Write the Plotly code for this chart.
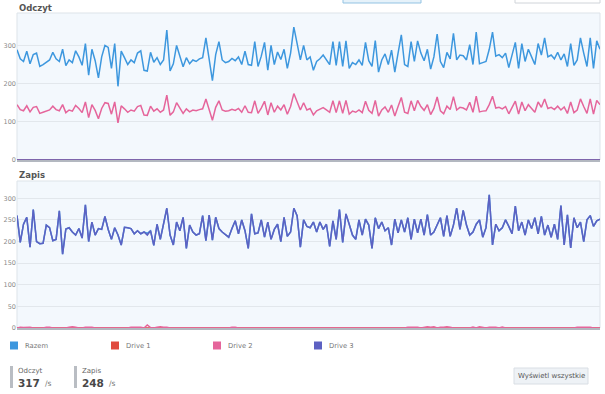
import plotly.graph_objects as go

# ---------------- data ----------------
read_razem = [289,265,258,285,252,276,280,245,250,255,262,282,265,258,290,247,262,255,286,270,
              248,305,222,290,260,215,270,300,295,240,305,193,285,268,250,262,255,280,286,235,
              233,282,256,268,250,262,340,233,252,300,270,244,268,252,262,258,265,268,320,260,
              208,276,310,262,255,258,266,260,270,250,285,250,248,310,245,272,308,235,300,250,
              283,263,290,240,280,348,305,262,300,262,270,235,258,265,275,262,250,310,248,310,
              245,312,240,255,250,262,248,308,260,245,313,230,262,278,250,288,230,280,328,250,
              245,310,258,312,280,260,290,238,270,330,258,242,282,265,332,262,275,273,262,302,
              250,335,252,255,258,290,335,272,276,268,280,242,272,308,240,305,258,290,270,250,
              305,275,320,270,275,265,282,262,278,245,305,248,262,320,280,245,320,240,312,290]
read_drive2 = [145,132,129,142,126,138,140,122,125,128,131,141,132,129,145,124,131,128,143,135,
               124,152,111,145,130,108,135,150,148,120,152,97,142,134,125,131,128,140,143,118,
               117,141,128,134,125,131,170,117,126,150,135,122,134,126,131,129,132,134,160,130,
               104,138,155,131,128,129,133,130,135,125,142,125,124,155,122,136,154,118,150,125,
               141,131,145,120,140,174,152,131,150,131,135,118,129,132,137,131,125,155,124,155,
               122,156,120,128,125,131,124,154,130,122,156,115,131,139,125,144,115,140,164,125,
               122,155,129,156,140,130,145,119,135,165,129,121,141,132,166,131,138,136,131,151,
               125,167,126,128,129,145,167,136,138,134,140,121,136,154,120,152,129,145,135,125,
               152,138,160,135,138,132,141,131,139,122,152,124,131,160,140,122,160,120,156,145]
read_drive1 = [0] * len(read_razem)
read_drive3 = [0] * len(read_razem)

write_drive3 = [260,198,240,256,187,274,200,195,196,238,232,202,205,271,171,229,232,222,215,230,
                208,285,200,245,215,230,228,258,228,205,232,215,192,233,232,230,218,225,218,222,
                215,225,191,240,205,245,277,215,192,245,225,256,184,238,222,215,218,260,202,261,
                203,256,230,222,215,210,230,248,218,250,225,184,264,218,220,250,210,245,205,228,
                240,200,256,212,222,277,260,187,250,235,232,245,222,245,228,240,189,248,205,274,
                198,264,240,215,205,250,215,252,238,184,255,230,245,225,232,192,252,220,250,222,
                255,205,252,220,252,215,262,215,222,240,255,212,260,212,238,277,228,272,238,215,
                222,240,250,210,232,308,192,240,225,232,250,235,218,282,225,245,215,250,230,255,
                218,258,215,238,210,240,205,283,192,262,185,255,232,245,200,250,260,235,248,252]
write_razem = [260,198,240,256,187,274,200,195,196,238,232,202,205,271,171,229,232,222,215,230,
               208,285,200,245,215,230,228,258,228,205,232,215,192,233,232,230,218,225,218,222,
               219,225,191,240,205,245,277,215,192,245,225,256,184,238,222,215,218,260,202,261,
               203,256,230,222,215,210,230,248,218,250,225,184,264,218,220,250,210,245,205,228,
               240,200,256,212,222,277,260,187,250,235,232,245,222,245,228,240,189,248,205,274,
               198,264,240,215,205,250,215,252,238,184,255,230,245,225,232,192,252,220,250,222,
               255,205,252,220,252,215,262,215,222,240,255,212,260,212,238,277,228,272,238,215,
               222,240,250,210,232,308,192,240,225,232,250,235,218,282,225,245,215,250,230,255,
               218,258,215,238,210,240,205,283,192,262,185,255,232,245,200,250,260,235,248,252]
write_drive2 = [0,2,1,2,2,0,0,0,0,2,2,0,0,0,0,0,2,3,2,0,
                0,2,2,2,0,0,0,0,0,0,0,0,0,0,0,2,2,1,2,0,
                7,1,0,2,3,2,2,0,0,0,0,0,0,0,0,0,0,0,0,0,
                0,0,0,0,0,0,2,2,0,0,0,0,0,0,0,0,0,0,0,0,
                0,0,0,0,0,0,0,0,0,0,0,0,0,0,0,0,0,0,0,0,
                0,0,0,0,0,0,0,0,0,0,0,0,0,0,0,0,0,0,0,0,
                2,2,3,2,0,2,3,2,3,0,2,2,3,2,0,0,0,0,0,0,
                2,0,3,2,0,2,2,2,0,2,0,0,0,0,0,0,0,0,0,0,
                0,0,0,0,0,0,0,0,0,0,0,0,2,2,3,2,2,0,0,0]
write_drive1 = [0] * len(write_razem)

x_idx = list(range(len(read_razem)))

series_names = ["Razem", "Drive 1", "Drive 2", "Drive 3"]
series_colors = ["#3d97de", "#e04a3e", "#e5659b", "#5d61c2"]

read_series = [read_razem, read_drive1, read_drive2, read_drive3]
write_series = [write_razem, write_drive1, write_drive2, write_drive3]

read_ticks = [0, 100, 200, 300]
write_ticks = [0, 50, 100, 150, 200, 250, 300]

stat_labels = ["Odczyt", "Zapis"]
stat_values = ["317", "248"]

# ---------------- figure ----------------
W, H = 605, 394


def px(x):
    return x / W


def py(y):
    return 1 - y / H


fig = go.Figure()
for vals, name, col in zip(read_series, series_names, series_colors):
    fig.add_trace(go.Scatter(x=x_idx, y=vals, mode="lines", name=name,
                             line=dict(color=col, width=1.5), xaxis="x", yaxis="y",
                             showlegend=False, hoverinfo="skip"))
for vals, name, col in zip(write_series, series_names, series_colors):
    fig.add_trace(go.Scatter(x=x_idx, y=vals, mode="lines", name=name,
                             line=dict(color=col, width=1.5), xaxis="x2", yaxis="y2",
                             showlegend=False, hoverinfo="skip"))

tickfont = dict(family="DejaVu Sans", size=6.5, color="#8a8a8a")
xd = [px(17), px(600)]
fig.update_layout(
    width=W, height=H,
    margin=dict(l=0, r=0, t=0, b=0, autoexpand=False),
    paper_bgcolor="white",
    plot_bgcolor="#f3f8fd",
    xaxis=dict(domain=xd, anchor="y", range=[0, len(x_idx) - 1], showticklabels=False,
               showgrid=False, zeroline=False, showline=True, linecolor="#b3b8c0",
               linewidth=2, ticks="", automargin=False),
    yaxis=dict(domain=[py(160), py(13)], anchor="x", range=[0, 385], tickvals=read_ticks,
               showgrid=True, gridcolor="#e2e7ec", gridwidth=1, zeroline=False,
               tickfont=tickfont, ticks="", showline=False, automargin=False),
    xaxis2=dict(domain=xd, anchor="y2", range=[0, len(x_idx) - 1], showticklabels=False,
                showgrid=False, zeroline=False, showline=True, linecolor="#b3b8c0",
                linewidth=2, ticks="", automargin=False),
    yaxis2=dict(domain=[py(328), py(181)], anchor="x2", range=[0, 340], tickvals=write_ticks,
                showgrid=True, gridcolor="#e2e7ec", gridwidth=1, zeroline=False,
                tickfont=tickfont, ticks="", showline=False, automargin=False),
)

shapes = []
# plot borders (light)
for top, bot in [(13, 160), (181, 328)]:
    shapes.append(dict(type="rect", xref="paper", yref="paper", x0=px(17), x1=px(600),
                       y0=py(bot), y1=py(top), line=dict(color="#dde3e9", width=1),
                       fillcolor="rgba(0,0,0,0)", layer="below"))
# top UI fragments
shapes.append(dict(type="rect", xref="paper", yref="paper", x0=px(343), x1=px(421),
                   y0=py(3), y1=py(-6), line=dict(color="#93c3e3", width=1), fillcolor="#e6f2fa"))
shapes.append(dict(type="rect", xref="paper", yref="paper", x0=px(515), x1=px(600),
                   y0=py(3), y1=py(-6), line=dict(color="#d0d4d9", width=1), fillcolor="#ffffff"))

annotations = []
annotations.append(dict(text="<b>Odczyt</b>", x=px(17), y=py(8), xref="paper", yref="paper",
                        xanchor="left", yanchor="middle", showarrow=False,
                        font=dict(family="DejaVu Sans", size=8.5, color="#555555")))
annotations.append(dict(text="<b>Zapis</b>", x=px(17), y=py(175), xref="paper", yref="paper",
                        xanchor="left", yanchor="middle", showarrow=False,
                        font=dict(family="DejaVu Sans", size=8.5, color="#555555")))

# legend
leg_x = [10, 111, 213, 314]
for lx, name, col in zip(leg_x, series_names, series_colors):
    shapes.append(dict(type="rect", xref="paper", yref="paper", x0=px(lx), x1=px(lx + 8),
                       y0=py(349.5), y1=py(341.5), line=dict(width=0), fillcolor=col))
    annotations.append(dict(text=name, x=px(lx + 13), y=py(345.5), xref="paper", yref="paper",
                            xanchor="left", yanchor="middle", showarrow=False,
                            font=dict(family="DejaVu Sans", size=6.8, color="#777777")))

# stats
stat_x = [10, 74]
for sx, lab, val in zip(stat_x, stat_labels, stat_values):
    shapes.append(dict(type="rect", xref="paper", yref="paper", x0=px(sx), x1=px(sx + 3),
                       y0=py(388), y1=py(366), line=dict(width=0), fillcolor="#b9bdc3"))
    annotations.append(dict(text=lab, x=px(sx + 6), y=py(370.5), xref="paper", yref="paper",
                            xanchor="left", yanchor="middle", showarrow=False,
                            font=dict(family="DejaVu Sans", size=7, color="#666666")))
    annotations.append(dict(text="<b>" + val + "</b>", x=px(sx + 6), y=py(383), xref="paper",
                            yref="paper", xanchor="left", yanchor="middle", showarrow=False,
                            font=dict(family="DejaVu Sans", size=10.5, color="#484848")))
    annotations.append(dict(text="/s", x=px(sx + 33), y=py(383.5), xref="paper", yref="paper",
                            xanchor="left", yanchor="middle", showarrow=False,
                            font=dict(family="DejaVu Sans", size=7.5, color="#777777")))

# button
shapes.append(dict(type="rect", xref="paper", yref="paper", x0=px(514), x1=px(588),
                   y0=py(384), y1=py(368), line=dict(color="#d9dee4", width=1),
                   fillcolor="#eef2f6"))
annotations.append(dict(text="Wyświetl wszystkie", x=px(551), y=py(376), xref="paper",
                        yref="paper", xanchor="center", yanchor="middle", showarrow=False,
                        font=dict(family="DejaVu Sans", size=7, color="#555555")))

fig.update_layout(shapes=shapes, annotations=annotations)
fig.write_html("out.html",
               config={"displayModeBar": False, "staticPlot": True},
               post_script="document.body.style.margin='0';document.body.style.overflow='hidden';")
